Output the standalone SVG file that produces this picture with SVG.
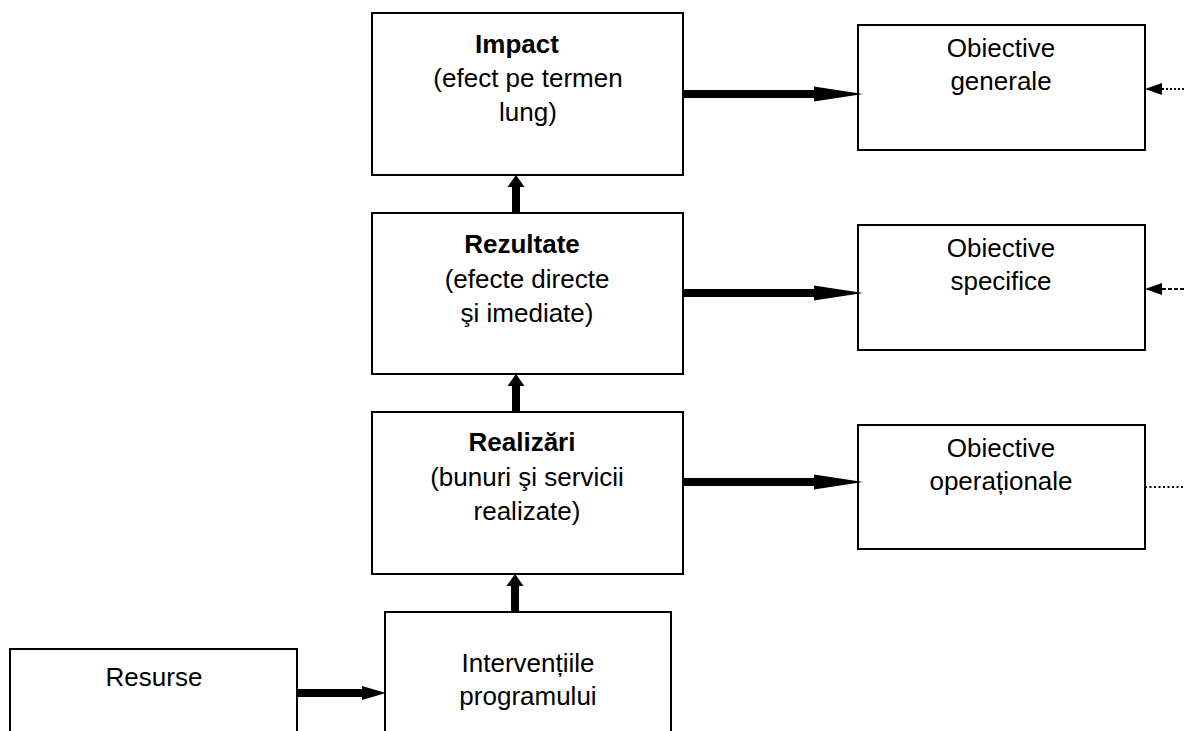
<svg xmlns="http://www.w3.org/2000/svg" width="1185" height="731" viewBox="0 0 1185 731">
  <style>
    .box { fill: #fff; stroke: #000; stroke-width: 2; }
    .t { font-family: "Liberation Sans", Arial, sans-serif; font-size: 26px; fill: #000; text-anchor: middle; }
    .b { font-weight: bold; }
    .shaft { stroke: #000; stroke-width: 8; fill: none; }
    .head { fill: #000; stroke: none; }
    .dot { stroke: #000; stroke-width: 2; fill: none; }
  </style>
  <rect width="1185" height="731" fill="#fff"/>

  <g id="impact">
    <rect class="box" x="372" y="13" width="311" height="162"/>
    <text class="t b" x="517" y="53">Impact</text>
    <text class="t" x="528" y="87">(efect pe termen</text>
    <text class="t" x="528" y="121">lung)</text>
  </g>
  <g id="rezultate">
    <rect class="box" x="372" y="213" width="311" height="161"/>
    <text class="t b" x="522" y="253">Rezultate</text>
    <text class="t" x="527" y="288">(efecte directe</text>
    <text class="t" x="527" y="322">şi imediate)</text>
  </g>
  <g id="realizari">
    <rect class="box" x="372" y="412" width="311" height="162"/>
    <text class="t b" x="522" y="451">Realizări</text>
    <text class="t" x="527" y="486">(bunuri şi servicii</text>
    <text class="t" x="527" y="520">realizate)</text>
  </g>
  <g id="interventii">
    <rect class="box" x="385" y="612" width="286" height="130"/>
    <text class="t" x="528" y="672">Intervențiile</text>
    <text class="t" x="528" y="705">programului</text>
  </g>
  <g id="resurse">
    <rect class="box" x="10" y="649" width="287" height="100"/>
    <text class="t" x="154" y="686">Resurse</text>
  </g>
  <g id="obiective-generale">
    <rect class="box" x="858" y="25" width="287" height="125"/>
    <text class="t" x="1001" y="57">Obiective</text>
    <text class="t" x="1001" y="90">generale</text>
  </g>
  <g id="obiective-specifice">
    <rect class="box" x="858" y="225" width="287" height="125"/>
    <text class="t" x="1001" y="257">Obiective</text>
    <text class="t" x="1001" y="290">specifice</text>
  </g>
  <g id="obiective-operationale">
    <rect class="box" x="858" y="425" width="287" height="124"/>
    <text class="t" x="1001" y="457">Obiective</text>
    <text class="t" x="1001" y="490">operaționale</text>
  </g>

  <g id="connectors">
    <line class="shaft" x1="683" y1="94" x2="816" y2="94"/>
    <polygon class="head" points="814,86.5 863,94 814,101.5"/>
    <line class="shaft" x1="683" y1="293" x2="816" y2="293"/>
    <polygon class="head" points="814,285.5 863,293 814,300.5"/>
    <line class="shaft" x1="683" y1="482" x2="816" y2="482"/>
    <polygon class="head" points="814,474.5 863,482 814,489.5"/>
    <line class="shaft" x1="297" y1="693" x2="364" y2="693"/>
    <polygon class="head" points="362,686 386,693 362,700"/>
    <line class="shaft" x1="516" y1="213" x2="516" y2="185"/>
    <polygon class="head" points="507.5,187 516,175 524.5,187"/>
    <line class="shaft" x1="516" y1="412" x2="516" y2="384"/>
    <polygon class="head" points="507.5,386 516,374 524.5,386"/>
    <line class="shaft" x1="515" y1="612" x2="515" y2="584"/>
    <polygon class="head" points="506.5,586 515,574 523.5,586"/>
    <line class="dot" x1="1162" y1="89" x2="1185" y2="89" stroke-dasharray="2,2"/>
    <polygon class="head" points="1162,83 1145,89 1162,95"/>
    <line class="dot" x1="1162" y1="289" x2="1185" y2="289" stroke-dasharray="4,2"/>
    <polygon class="head" points="1162,283 1145,289 1162,295"/>
    <line class="dot" x1="1145" y1="487" x2="1185" y2="487" stroke-dasharray="2,2.5"/>
  </g>
</svg>
